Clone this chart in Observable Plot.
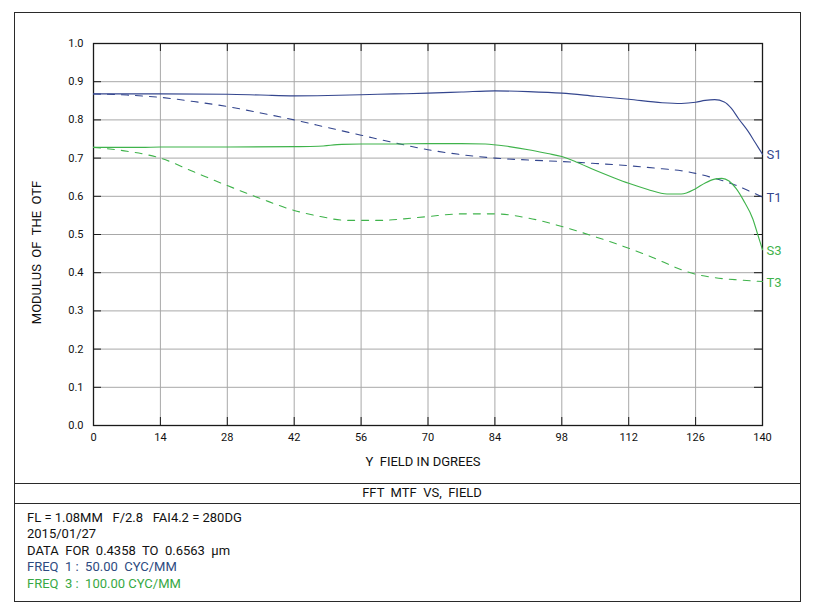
<!DOCTYPE html>
<html><head><meta charset="utf-8">
<script src="https://cdn.jsdelivr.net/npm/d3@7"></script>
<script src="https://cdn.jsdelivr.net/npm/@observablehq/plot@0.6"></script>
<style>
body{margin:0;background:#fff;font-family:Roboto,"Noto Sans",sans-serif;}
svg text{white-space:pre;}
#box{position:absolute;left:14px;top:12px;width:785px;height:588px;border:1px solid #2a2a2a;}
#chart{position:absolute;left:0;top:0;}
#title{position:absolute;left:0;top:470px;width:785px;height:19px;border-top:1px solid #2a2a2a;border-bottom:1px solid #2a2a2a;}
#title span{position:absolute;left:72px;width:670px;text-align:center;top:1px;font-size:13px;color:#111;white-space:pre;}
#info{position:absolute;left:12px;top:497px;font-size:13px;line-height:16.4px;color:#111;white-space:pre;}
</style></head>
<body>
<div id="box">
<div id="chart"></div>
<div id="title"><span>FFT  MTF  VS,  FIELD</span></div>
<div id="info"></div>
</div>
<script>
// field (degrees)
const s1Field = [0,14,28,35,42,49,56,63,70,77,84,91,98,105,112,119,123,126,128,130,132,133.5,135,137,138.5,140];
const s1Value = [0.868,0.868,0.867,0.865,0.863,0.864,0.866,0.868,0.870,0.873,0.876,0.874,0.870,0.862,0.854,0.845,0.843,0.846,0.851,0.853,0.847,0.830,0.803,0.770,0.740,0.710];
const t1Field = [0,7,14,21,28,35,42,49,56,63,70,77,84,91,98,105,112,119,123,126,130,134,137,140];
const t1Value = [0.868,0.865,0.859,0.848,0.835,0.818,0.800,0.780,0.760,0.740,0.722,0.709,0.700,0.695,0.691,0.686,0.680,0.672,0.667,0.660,0.647,0.631,0.615,0.598];
const s3Field = [0,10,14,28,42,47,52,56,63,70,77,82,87,91,95,98,101,105,109,112,116,120,123,126,128,130,131.5,133,134.5,136,138,139,140];
const s3Value = [0.728,0.728,0.729,0.729,0.730,0.731,0.736,0.737,0.737,0.738,0.738,0.737,0.730,0.722,0.712,0.704,0.690,0.668,0.648,0.634,0.618,0.606,0.606,0.620,0.635,0.645,0.647,0.640,0.620,0.590,0.540,0.500,0.460];
const t3Field = [0,7,14,21,28,35,42,47.5,53,60,65,70,77,84,91,98,105,112,117,123,126,130,135,140];
const t3Value = [0.728,0.718,0.700,0.664,0.628,0.594,0.563,0.547,0.537,0.537,0.541,0.547,0.554,0.554,0.543,0.521,0.494,0.464,0.440,0.408,0.396,0.387,0.381,0.377];
const xTicks = [0,14,28,42,56,70,84,98,112,126,140];
const yTicks = [0,0.1,0.2,0.3,0.4,0.5,0.6,0.7,0.8,0.9,1.0];
const seriesNames = ["S1","T1","S3","T3"];
const seriesColors = ["#34468e","#34468e","#3fb34b","#3fb34b"];
const seriesDash = [null,"7,7",null,"7,7"];
const infoLines = ["FL = 1.08MM   F/2.8   FAI4.2 = 280DG","2015/01/27","DATA  FOR  0.4358  TO  0.6563  \u03bcm","FREQ  1 :  50.00  CYC/MM","FREQ  3 :  100.00 CYC/MM"];
const infoColors = ["#111","#111","#111","#2d4a80","#37a844"];

const fields=[s1Field,t1Field,s3Field,t3Field], values=[s1Value,t1Value,s3Value,t3Value];
const series = seriesNames.map((n,i)=>({name:n,color:seriesColors[i],dash:seriesDash[i],
  pts:fields[i].map((f,j)=>({x:f,y:values[i][j]}))}));
const labelData = series.map(s=>({name:s.name,color:s.color,x:140,y:s.pts[s.pts.length-1].y}));

const W=785,H=470, mL=78, mR=38, mT=30, mB=58;
const innerW=W-mL-mR, innerH=H-mT-mB;
const dark="#1a1a1a";
const marks=[
  Plot.ruleX(xTicks,{stroke:"#a8a8a8",strokeWidth:1}),
  Plot.ruleY(yTicks,{stroke:"#a8a8a8",strokeWidth:1}),
  Plot.ruleX(xTicks,{stroke:dark,insetTop:innerH-8}),
  Plot.ruleX(xTicks,{stroke:dark,insetBottom:innerH-8}),
  Plot.ruleY(yTicks,{stroke:dark,insetRight:innerW-8}),
  Plot.ruleY(yTicks,{stroke:dark,insetLeft:innerW-8}),
  Plot.frame({stroke:dark,strokeWidth:1.3}),
  ...series.map(s=>Plot.line(s.pts,{x:"x",y:"y",curve:"monotone-x",stroke:s.color,strokeWidth:1.1,strokeDasharray:s.dash})),
  Plot.text(labelData,{x:"x",y:"y",text:"name",fill:"color",textAnchor:"start",dx:4,dy:1,fontSize:13}),
  Plot.axisX({ticks:xTicks,tickSize:0,tickPadding:8,label:"Y  FIELD IN DGREES",labelAnchor:"center",labelArrow:"none",labelOffset:40,fontSize:11}),
  Plot.axisY({ticks:yTicks,tickSize:0,tickPadding:10,tickFormat:d3.format(".1f"),label:"MODULUS  OF  THE  OTF",labelAnchor:"center",labelArrow:"none",labelOffset:62,fontSize:11})
];
const chart=Plot.plot({width:W,height:H,marginLeft:mL,marginRight:mR,marginTop:mT,marginBottom:mB,
  style:{fontFamily:"Roboto, 'Noto Sans', sans-serif",fontSize:"11px",color:"#111",background:"transparent"},
  x:{domain:[0,140]}, y:{domain:[0,1]}, marks});
d3.select(chart).selectAll("g[aria-label='x-axis label'] text").style("font-size","13px").attr("dx","-5");
d3.select(chart).selectAll("g[aria-label='y-axis label'] text").style("font-size","13px").attr("dx","-18");
document.getElementById("chart").appendChild(chart);
const info=document.getElementById("info");
infoLines.forEach((t,i)=>{const d=document.createElement("div");d.textContent=t;d.style.color=infoColors[i];info.appendChild(d);});
</script>
</body></html>
